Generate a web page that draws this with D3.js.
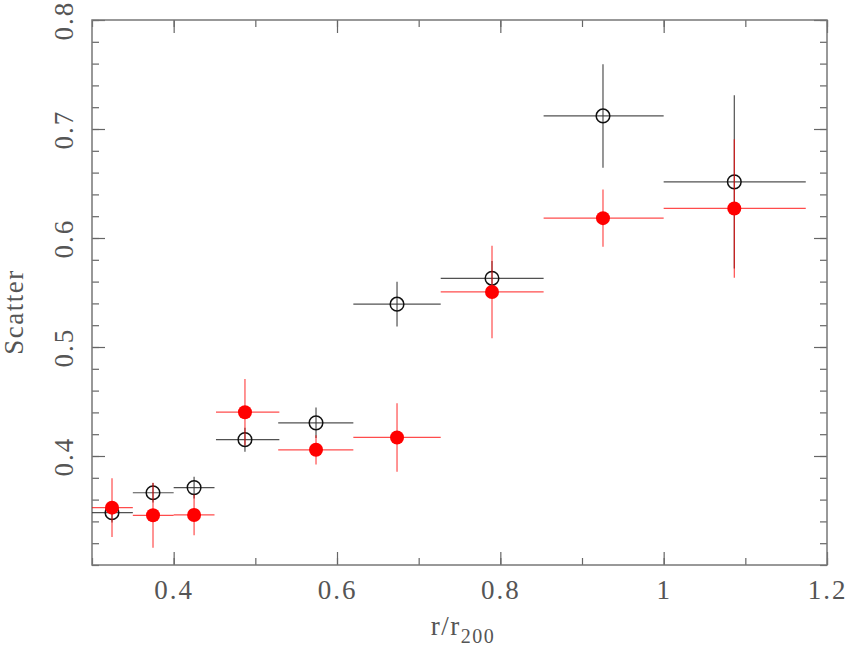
<!DOCTYPE html>
<html>
<head>
  <meta charset="UTF-8">
  <title>Scatter vs r/r200</title>
  <style>
    body { margin: 0; background: #fff; }
    text { font-family: "Liberation Serif", "DejaVu Serif", serif; fill: #555; }
  </style>
</head>
<body>
  <svg id="chart" width="847" height="646"></svg>

  <script src="https://d3js.org/d3.v7.min.js"></script>
  <script>

    // bin centres and edges in r/r200
    var radius = [0.3245, 0.3747, 0.425, 0.4873, 0.5743, 0.6735, 0.7898, 0.9257, 1.0865];
    var binLo  = [0.300, 0.350, 0.400, 0.4518, 0.528, 0.620, 0.727, 0.853, 1.000];
    var binHi  = [0.350, 0.400, 0.450, 0.5294, 0.620, 0.727, 0.853, 1.000, 1.174];

    // open black circles
    var scatterOpen = [0.348, 0.3663, 0.371, 0.415, 0.4304, 0.5393, 0.563, 0.712, 0.6515];
    var errOpen     = [0.009, 0.009, 0.010, 0.011, 0.014, 0.0205, 0.016, 0.0475, 0.0795];

    // filled red circles
    var scatterFilled = [0.3526, 0.3456, 0.3459, 0.4402, 0.4057, 0.417, 0.5505, 0.6182, 0.6271];
    var errFilled     = [0.027, 0.0298, 0.0187, 0.0305, 0.0134, 0.0315, 0.0424, 0.0262, 0.0636];

    var xMajor = [0.4, 0.6, 0.8, 1.0, 1.2];
    var yMajor = [0.4, 0.5, 0.6, 0.7, 0.8];

    var svg = d3.select("#chart"),
      margin = {top: 20, right: 20, bottom: 81, left: 92},
      width = +svg.attr("width") - margin.left - margin.right,
      height = +svg.attr("height") - margin.top - margin.bottom,
      g = svg.append("g").attr("transform", "translate(" + margin.left + "," + margin.top + ")");

    var x = d3.scaleLinear().domain([0.3, 1.2]).range([0, width]);
    var y = d3.scaleLinear().domain([0.3, 0.8]).range([height, 0]);

    var fmt = function(d) { return d3.format("")(+d.toFixed(1)); };

    // ticks on all four sides, pointing inward
    var xMinor = d3.range(0.3, 1.2001, 0.1).map(function(d) { return +d.toFixed(2); });
    var yMinor = d3.range(0.3, 0.8001, 0.02).map(function(d) { return +d.toFixed(2); });

    function addAxis(axis, tx, ty) {
      var a = g.append("g")
        .attr("transform", "translate(" + tx + "," + ty + ")")
        .call(axis);
      a.select(".domain").remove();
      a.selectAll("line").attr("stroke", "#666").attr("stroke-width", 1.2);
      return a;
    }

    addAxis(d3.axisBottom(x).tickValues(xMinor).tickSize(-7).tickFormat(""), 0, height);
    addAxis(d3.axisTop(x).tickValues(xMinor).tickSize(-7).tickFormat(""), 0, 0);
    addAxis(d3.axisLeft(y).tickValues(yMinor).tickSize(-7).tickFormat(""), 0, 0);
    addAxis(d3.axisRight(y).tickValues(yMinor).tickSize(-7).tickFormat(""), width, 0);

    var xAx = addAxis(d3.axisBottom(x).tickValues(xMajor).tickSize(-13).tickFormat(fmt), 0, height);
    xAx.selectAll("text")
      .attr("y", 34)
      .attr("dy", 0)
      .style("font-size", "27px")
      .style("letter-spacing", "2px");
    addAxis(d3.axisTop(x).tickValues(xMajor).tickSize(-13).tickFormat(""), 0, 0);

    var yAx = addAxis(d3.axisLeft(y).tickValues(yMajor).tickSize(-13).tickFormat(fmt), 0, 0);
    yAx.selectAll("text")
      .attr("x", 0).attr("dy", 0)
      .attr("text-anchor", "middle")
      .attr("transform", "translate(-19,0) rotate(-90)")
      .style("font-size", "27px")
      .style("letter-spacing", "2px");
    addAxis(d3.axisRight(y).tickValues(yMajor).tickSize(-13).tickFormat(""), width, 0);

    // frame
    g.append("rect")
      .attr("width", width)
      .attr("height", height)
      .attr("fill", "none")
      .attr("stroke", "#777")
      .attr("stroke-width", 1.5);

    // axis titles
    svg.append("text")
      .attr("transform", "translate(23,312) rotate(-90)")
      .attr("text-anchor", "middle")
      .style("font-size", "27px")
      .style("letter-spacing", "1.5px")
      .text("Scatter");

    var xt = svg.append("text")
      .attr("x", 463)
      .attr("y", 635)
      .attr("text-anchor", "middle")
      .style("font-size", "27px")
      .style("letter-spacing", "1.5px");
    xt.append("tspan").text("r/r");
    xt.append("tspan").attr("dy", 8).style("font-size", "20px").text("200");

    function drawSet(vals, errs, lineColor, lineOpacity) {
      var s = g.append("g");
      var idx = d3.range(vals.length);
      s.selectAll(".xerr").data(idx).enter().append("line")
        .attr("x1", function(i) { return x(binLo[i]); })
        .attr("x2", function(i) { return x(binHi[i]); })
        .attr("y1", function(i) { return y(vals[i]); })
        .attr("y2", function(i) { return y(vals[i]); })
        .attr("stroke", lineColor).attr("stroke-opacity", lineOpacity).attr("stroke-width", 1.2);
      s.selectAll(".yerr").data(idx).enter().append("line")
        .attr("x1", function(i) { return x(radius[i]); })
        .attr("x2", function(i) { return x(radius[i]); })
        .attr("y1", function(i) { return y(vals[i] - errs[i]); })
        .attr("y2", function(i) { return y(vals[i] + errs[i]); })
        .attr("stroke", lineColor).attr("stroke-opacity", lineOpacity).attr("stroke-width", 1.2);
      return s;
    }

    var black = drawSet(scatterOpen, errOpen, "#333", 0.85);
    black.selectAll("circle").data(d3.range(radius.length)).enter().append("circle")
      .attr("cx", function(i) { return x(radius[i]); })
      .attr("cy", function(i) { return y(scatterOpen[i]); })
      .attr("r", 6.8)
      .attr("fill", "none")
      .attr("stroke", "#111")
      .attr("stroke-width", 1.5);

    var red = drawSet(scatterFilled, errFilled, "#ff0000", 0.7);
    red.selectAll("circle").data(d3.range(radius.length)).enter().append("circle")
      .attr("cx", function(i) { return x(radius[i]); })
      .attr("cy", function(i) { return y(scatterFilled[i]); })
      .attr("r", 7)
      .attr("fill", "#ff0000");

  </script>
</body>
</html>
